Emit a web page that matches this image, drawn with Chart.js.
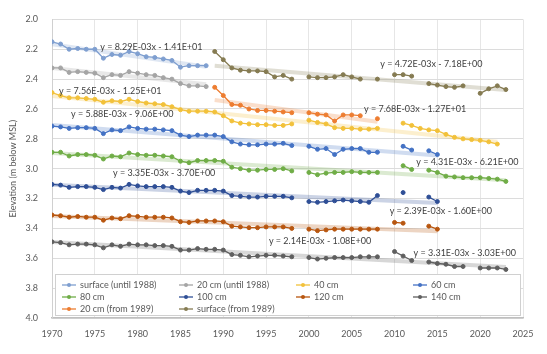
<!DOCTYPE html>
<html>
<head>
<meta charset="utf-8">
<script src="https://cdn.jsdelivr.net/npm/chart.js@4/dist/chart.umd.min.js"></script>
<style>
  html, body { margin: 0; padding: 0; background: #fff; }
  #wrap { width: 547px; height: 354px; position: relative; }
</style>
</head>
<body>
<div id="wrap"><canvas id="c"></canvas></div>
<script>
const _ = null;

// Observation years (one reading per year)
const years = [
  1970,1971,1972,1973,1974,1975,1976,1977,1978,1979,
  1980,1981,1982,1983,1984,1985,1986,1987,1988,1989,
  1990,1991,1992,1993,1994,1995,1996,1997,1998,1999,
  2000,2001,2002,2003,2004,2005,2006,2007,2008,2009,
  2010,2011,2012,2013,2014,2015,2016,2017,2018,2019,
  2020,2021,2022,2023
];

// Elevation in m below MSL, per level, aligned with `years`
const surfaceUntil1988 = [
  2.150,2.165,2.200,2.195,2.200,2.200,2.260,2.235,2.240,2.215,
  2.230,2.250,2.255,2.265,2.275,2.320,2.310,2.310,2.310,_,
  _,_,_,_,_,_,_,_,_,_,
  _,_,_,_,_,_,_,_,_,_,
  _,_,_,_,_,_,_,_,_,_,
  _,_,_,_
];
const cm20Until1988 = [
  2.325,2.325,2.355,2.350,2.355,2.360,2.390,2.370,2.375,2.350,
  2.360,2.370,2.375,2.390,2.400,2.430,2.445,2.445,2.450,_,
  _,_,_,_,_,_,_,_,_,_,
  _,_,_,_,_,_,_,_,_,_,
  _,_,_,_,_,_,_,_,_,_,
  _,_,_,_
];
const cm40 = [
  2.490,2.510,2.525,2.525,2.530,2.535,2.555,2.545,2.550,2.535,
  2.550,2.560,2.565,2.570,2.585,2.605,2.615,2.615,2.615,2.620,
  2.645,2.680,2.695,2.700,2.705,2.705,2.710,2.710,2.700,_,
  2.675,2.690,2.700,2.725,2.730,2.730,2.735,2.735,2.730,_,
  _,2.695,2.710,2.730,2.740,2.745,2.770,2.790,2.800,2.805,
  2.810,2.820,2.835,_
];
const cm60 = [
  2.715,2.720,2.730,2.725,2.725,2.730,2.765,2.740,2.745,2.720,
  2.730,2.735,2.735,2.740,2.745,2.775,2.785,2.775,2.775,2.775,
  2.785,2.820,2.835,2.840,2.840,2.835,2.835,2.830,2.845,_,
  2.850,2.870,2.865,2.905,2.870,2.865,2.865,2.890,2.890,_,
  _,2.850,2.875,_,2.880,2.905,_,_,_,_,
  _,_,_,_
];
const cm80 = [
  2.890,2.890,2.915,2.905,2.905,2.910,2.935,2.915,2.920,2.895,
  2.905,2.910,2.910,2.915,2.920,2.950,2.960,2.945,2.945,2.945,
  2.950,2.990,3.000,3.010,3.010,3.005,3.005,3.000,3.015,_,
  3.025,3.040,3.030,3.025,3.025,3.020,3.025,3.025,3.025,_,
  _,2.980,3.005,_,3.010,3.025,3.050,3.055,3.060,3.060,
  3.060,3.065,3.070,3.085
];
const cm100 = [
  3.105,3.110,3.125,3.120,3.120,3.125,3.140,3.125,3.130,3.105,
  3.115,3.120,3.120,3.120,3.125,3.150,3.160,3.145,3.145,3.145,
  3.150,3.180,3.185,3.190,3.190,3.185,3.185,3.185,3.195,_,
  3.220,3.225,3.220,3.215,3.210,3.215,3.220,3.225,3.180,_,
  _,3.160,_,_,3.190,3.220,_,_,_,_,
  _,_,_,_
];
const cm120 = [
  3.310,3.315,3.325,3.320,3.325,3.325,3.345,3.330,3.335,3.315,
  3.320,3.325,3.325,3.325,3.330,3.355,3.360,3.350,3.350,3.350,
  3.355,3.385,3.390,3.395,3.395,3.390,3.390,3.390,3.400,_,
  3.405,3.415,3.410,3.405,3.405,3.405,3.405,3.405,3.405,_,
  3.360,3.365,_,_,3.385,3.405,_,_,_,_,
  _,_,_,_
];
const cm140 = [
  3.490,3.495,3.510,3.505,3.505,3.510,3.530,3.510,3.520,3.505,
  3.510,3.510,3.515,3.515,3.520,3.545,3.545,3.535,3.540,3.540,
  3.545,3.575,3.580,3.590,3.585,3.580,3.580,3.585,3.590,_,
  3.595,3.605,3.600,3.595,3.595,3.595,3.590,3.590,3.590,_,
  3.555,3.585,3.615,_,3.625,3.635,3.640,3.655,3.655,_,
  3.665,3.665,3.665,3.675
];
const cm20From1989 = [
  _,_,_,_,_,_,_,_,_,_,
  _,_,_,_,_,_,_,_,_,2.455,
  2.510,2.570,2.575,2.600,2.610,2.610,2.615,2.620,2.625,_,
  2.625,2.635,2.640,2.680,2.640,2.640,2.645,_,2.665,_,
  _,_,_,_,_,_,_,_,_,_,
  _,_,_,_
];
const surfaceFrom1989 = [
  _,_,_,_,_,_,_,_,_,_,
  _,_,_,_,_,_,_,_,_,2.215,
  2.270,2.325,2.340,2.345,2.345,2.350,2.385,2.375,2.400,_,
  2.385,2.390,2.390,2.385,2.370,2.385,2.400,_,2.400,_,
  2.370,2.370,2.380,_,2.430,2.440,2.450,2.455,2.445,_,
  2.495,2.465,2.445,2.470
];

const seriesNames = [
  'surface (until 1988)', '20 cm (until 1988)', '40 cm', '60 cm',
  '80 cm', '100 cm', '120 cm', '140 cm',
  '20 cm (from 1989)', 'surface (from 1989)'
];
const seriesValues = [
  surfaceUntil1988, cm20Until1988, cm40, cm60,
  cm80, cm100, cm120, cm140,
  cm20From1989, surfaceFrom1989
];
const trendEquations = [
  'y = 8.29E-03x - 1.41E+01', 'y = 7.56E-03x - 1.25E+01', 'y = 5.88E-03x - 9.06E+00', 'y = 4.31E-03x - 6.21E+00',
  'y = 3.35E-03x - 3.70E+00', 'y = 2.39E-03x - 1.60E+00', 'y = 2.14E-03x - 1.08E+00', 'y = 3.31E-03x - 3.03E+00',
  'y = 7.68E-03x - 1.27E+01', 'y = 4.72E-03x - 7.18E+00'
];

// Styling
const colors = [
  '#7f9fd0', '#a5a5a5', '#f2c13a', '#4472c4',
  '#70ad47', '#2f4f96', '#b8560f', '#5f5f5f',
  '#ed7d31', '#857b52'
];
// where each trend equation sits, in axis units
const equationAnchors = [
  [1981.6, 2.185], [1976.8, 2.480], [1978.2, 2.632], [2018.5, 2.953],
  [1983.1, 3.028], [2015.4, 3.282], [2001.3, 3.488], [2018.2, 3.568],
  [2012.4, 2.600], [2014.3, 2.300]
];

function hexToRgba(hex, a) {
  const n = parseInt(hex.slice(1), 16);
  return `rgba(${(n >> 16) & 255},${(n >> 8) & 255},${n & 255},${a})`;
}

// Ordinary least-squares linear trend over the non-empty readings
function linearTrend(vals) {
  const pts = [];
  vals.forEach((v, i) => { if (v !== null) pts.push([years[i], v]); });
  const n = pts.length;
  const mx = pts.reduce((s, p) => s + p[0], 0) / n;
  const my = pts.reduce((s, p) => s + p[1], 0) / n;
  let sxy = 0, sxx = 0;
  pts.forEach(p => { sxy += (p[0] - mx) * (p[1] - my); sxx += (p[0] - mx) ** 2; });
  const slope = sxy / sxx;
  const icpt = my - slope * mx;
  const x0 = pts[0][0], x1 = pts[n - 1][0];
  return [{ x: x0, y: icpt + slope * x0 }, { x: x1, y: icpt + slope * x1 }];
}

const datasets = [];
seriesValues.forEach((vals, k) => {
  datasets.push({
    label: seriesNames[k],
    data: years.map((yr, i) => ({ x: yr, y: vals[i] })),
    borderColor: colors[k],
    backgroundColor: colors[k],
    borderWidth: 1.3,
    pointRadius: 2,
    pointBorderWidth: 1,
    pointStyle: 'circle',
    spanGaps: false,
    tension: 0,
    order: 1
  });
});
seriesValues.forEach((vals, k) => {
  datasets.push({
    label: 'trend ' + seriesNames[k],
    data: linearTrend(vals),
    borderColor: hexToRgba(colors[k], 0.25),
    borderWidth: 4,
    pointRadius: 0,
    tension: 0,
    order: 2
  });
});

const textColor = '#595959';

// Legend drawn as a 4-column grid inside the lower part of the plot area
const gridLegend = {
  id: 'gridLegend',
  afterDatasetsDraw(chart) {
    const ctx = chart.ctx, ca = chart.chartArea;
    const boxL = ca.left + 3, boxT = ca.bottom - 44, boxR = ca.right - 2, boxB = ca.bottom - 2;
    ctx.save();
    ctx.fillStyle = '#ffffff';
    ctx.fillRect(boxL, boxT, boxR - boxL, boxB - boxT);
    ctx.strokeStyle = '#d0d0d0';
    ctx.lineWidth = 1;
    ctx.strokeRect(boxL + 0.5, boxT + 0.5, boxR - boxL - 1, boxB - boxT - 1);
    ctx.font = '9px Lato, "Open Sans", sans-serif';
    ctx.textBaseline = 'middle';
    ctx.textAlign = 'left';
    seriesNames.forEach((name, k) => {
      const col = k % 4, row = Math.floor(k / 4);
      const x0 = ca.left + 10 + col * 117;
      const y0 = ca.bottom - 33 + row * 12;
      ctx.strokeStyle = colors[k];
      ctx.lineWidth = 1.3;
      ctx.beginPath();
      ctx.moveTo(x0, y0);
      ctx.lineTo(x0 + 14, y0);
      ctx.stroke();
      ctx.fillStyle = colors[k];
      ctx.beginPath();
      ctx.arc(x0 + 7, y0, 2, 0, Math.PI * 2);
      ctx.fill();
      ctx.fillStyle = textColor;
      ctx.fillText(name, x0 + 18, y0 + 0.5);
    });
    ctx.restore();
  }
};

// Trend equations written next to their series
const equationLabels = {
  id: 'equationLabels',
  afterDatasetsDraw(chart) {
    const ctx = chart.ctx, xs = chart.scales.x, ys = chart.scales.y;
    ctx.save();
    ctx.font = '9px Lato, "Open Sans", sans-serif';
    ctx.fillStyle = '#404040';
    ctx.textAlign = 'center';
    ctx.textBaseline = 'middle';
    trendEquations.forEach((txt, k) => {
      const a = equationAnchors[k];
      ctx.fillText(txt, xs.getPixelForValue(a[0]), ys.getPixelForValue(a[1]));
    });
    ctx.restore();
  }
};

Chart.defaults.font.family = 'Lato, "Open Sans", sans-serif';
Chart.defaults.font.size = 9;
Chart.defaults.color = textColor;

new Chart(document.getElementById('c'), {
  type: 'line',
  data: { datasets },
  options: {
    responsive: true,
    maintainAspectRatio: false,
    animation: false,
    layout: { padding: { top: 14, right: 24, bottom: 0, left: 0 } },
    plugins: {
      legend: { display: false },
      tooltip: { enabled: false }
    },
    scales: {
      x: {
        type: 'linear',
        min: 1970,
        max: 2025,
        ticks: { stepSize: 5, padding: 11, color: textColor, callback: v => String(v) },
        grid: { color: '#e6e6e6', drawTicks: false },
        border: { color: '#bfbfbf', width: 1.5 },
        afterFit: s => { s.height = 36; }
      },
      y: {
        reverse: true,
        min: 2.0,
        max: 4.0,
        ticks: { stepSize: 0.2, padding: 14, color: textColor, callback: v => v.toFixed(1) },
        grid: { color: '#dcdcdc', drawTicks: false },
        border: { color: '#d0d0d0' },
        title: { display: true, text: 'Elevation (m below MSL)', color: textColor, font: { size: 9 }, padding: { top: 8, bottom: 2 } },
        afterFit: s => { s.width = 52; }
      }
    }
  },
  plugins: [equationLabels, gridLegend]
});
</script>
</body>
</html>
